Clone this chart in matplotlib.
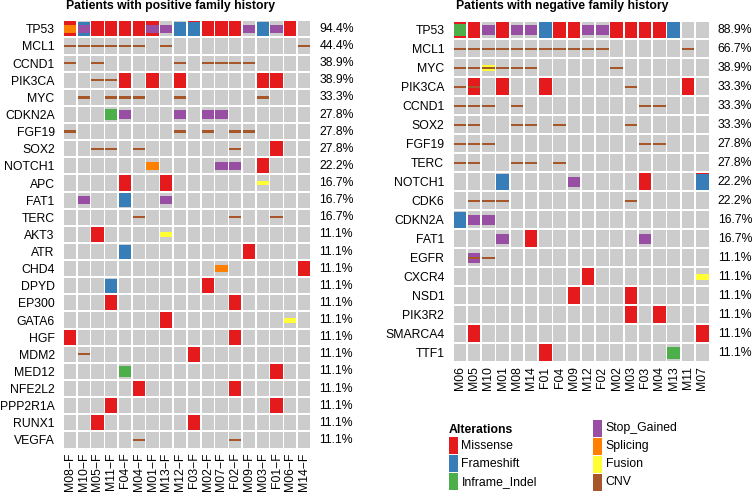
import numpy as np
import matplotlib.pyplot as plt
from matplotlib.patches import Rectangle

plt.rcParams['font.family'] = ['Liberation Sans', 'DejaVu Sans']

# alteration types, codes used in the call tables below, colours and bar heights
alt_types = ['Missense', 'Frameshift', 'Inframe_Indel', 'Stop_Gained', 'Splicing', 'Fusion', 'CNV']
alt_codes = ['M', 'F', 'I', 'S', 'P', 'U', 'C']
alt_colors = ['#E41A1C', '#377EB8', '#4DAF4A', '#984EA3', '#FF7F00', '#FFFF33', '#A65628']
alt_heights = [1.0, 0.82, 0.64, 0.5, 0.43, 0.29, 0.14]  # share of row pitch

# positive family history
pos_samples = ['M08-F', 'M10-F', 'M05-F', 'M11-F', 'F04-F', 'M04-F', 'M01-F', 'M13-F', 'M12-F',
               'F03-F', 'M02-F', 'M07-F', 'F02-F', 'M09-F', 'M03-F', 'F01-F', 'M06-F', 'M14-F']
pos_genes = ['TP53', 'MCL1', 'CCND1', 'PIK3CA', 'MYC', 'CDKN2A', 'FGF19', 'SOX2', 'NOTCH1', 'APC',
             'FAT1', 'TERC', 'AKT3', 'ATR', 'CHD4', 'DPYD', 'EP300', 'GATA6', 'HGF', 'MDM2',
             'MED12', 'NFE2L2', 'PPP2R1A', 'RUNX1', 'VEGFA']
pos_calls = [
    'MP FS M  M  M  M  MS S  F  MF M  M  M  S  F  S  M  .',
    'C  C  C  C  C  C  .  C  .  .  .  .  .  .  .  .  .  C',
    'C  .  C  .  .  .  .  .  C  .  C  C  C  C  .  .  .  .',
    '.  .  C  C  M  .  M  .  M  .  .  .  .  .  M  M  .  .',
    '.  C  .  C  C  C  .  .  C  .  .  .  .  .  C  .  .  .',
    '.  .  .  I  S  .  .  .  S  .  S  S  .  .  .  .  .  .',
    'C  .  .  .  .  .  .  .  C  .  C  .  C  C  .  .  .  .',
    '.  .  C  C  .  C  .  .  .  .  .  .  C  .  .  M  .  .',
    '.  .  .  .  .  .  P  .  .  .  .  S  S  .  M  .  .  .',
    '.  .  .  .  M  .  .  M  .  .  .  .  .  .  U  .  .  .',
    '.  S  .  .  F  .  .  S  .  .  .  .  .  .  .  .  .  .',
    '.  .  .  .  .  C  .  .  .  .  .  .  C  .  .  C  .  .',
    '.  .  M  .  .  .  .  U  .  .  .  .  .  .  .  .  .  .',
    '.  .  .  .  F  .  .  .  .  .  .  .  .  M  .  .  .  .',
    '.  .  .  .  .  .  .  .  .  .  .  P  .  .  .  .  .  M',
    '.  .  .  F  .  .  .  .  .  .  M  .  .  .  .  .  .  .',
    '.  .  .  M  .  .  .  .  .  .  .  .  M  .  .  .  .  .',
    '.  .  .  .  .  .  .  M  .  .  .  .  .  .  .  .  U  .',
    'M  .  .  .  .  .  .  .  .  .  .  .  M  .  .  .  .  .',
    '.  C  .  .  .  .  .  .  .  M  .  .  .  .  .  .  .  .',
    '.  .  .  .  I  .  .  .  .  .  .  .  .  .  .  M  .  .',
    '.  .  .  .  .  M  .  .  .  .  .  .  M  .  .  .  .  .',
    '.  .  .  M  .  .  .  .  .  .  .  .  .  .  .  M  .  .',
    '.  .  M  .  .  .  .  .  .  M  .  .  .  .  .  .  .  .',
    '.  .  .  .  .  C  .  .  .  .  .  .  C  .  .  .  .  .',
]

# negative family history
neg_samples = ['M06', 'M05', 'M10', 'M01', 'M08', 'M14', 'F01', 'F04', 'M09',
               'M12', 'F02', 'M02', 'M03', 'F03', 'M04', 'M13', 'M11', 'M07']
neg_genes = ['TP53', 'MCL1', 'MYC', 'PIK3CA', 'CCND1', 'SOX2', 'FGF19', 'TERC', 'NOTCH1',
             'CDK6', 'CDKN2A', 'FAT1', 'EGFR', 'CXCR4', 'NSD1', 'PIK3R2', 'SMARCA4', 'TTF1']
neg_calls = [
    'MI M  S  M  S  S  F  M  M  S  S  M  M  M  M  F  .  .',
    'C  C  C  C  C  C  C  C  C  C  C  .  .  .  .  .  C  .',
    'C  C  UC C  C  C  .  .  .  .  .  C  .  .  .  .  .  .',
    'C  MC .  M  .  .  M  .  .  .  .  .  C  .  .  .  M  .',
    'C  C  C  .  C  .  .  .  .  .  .  .  .  C  C  .  .  .',
    'C  C  .  .  C  C  .  C  .  .  .  .  C  .  .  .  .  .',
    'C  C  C  .  .  .  .  .  .  .  .  .  .  C  C  .  .  .',
    'C  C  .  .  C  C  .  C  .  .  .  .  .  .  .  .  .  .',
    '.  .  .  F  .  .  .  .  S  .  .  .  .  M  .  .  .  MF',
    '.  C  C  C  .  .  .  .  .  .  .  .  C  .  .  .  .  .',
    'F  S  S  .  .  .  .  .  .  .  .  .  .  .  .  .  .  .',
    '.  .  .  S  .  M  .  .  .  .  .  .  .  S  .  .  .  .',
    '.  SC C  .  .  .  .  .  .  .  .  .  .  .  .  .  .  .',
    '.  .  .  .  .  .  .  .  .  M  .  .  .  .  .  .  .  U',
    '.  .  .  .  .  .  .  .  M  .  .  .  M  .  .  .  .  .',
    '.  .  .  .  .  .  .  .  .  .  .  .  M  .  M  .  .  .',
    '.  M  .  .  .  .  .  .  .  .  .  .  .  .  .  .  .  M',
    '.  .  .  .  .  .  M  .  .  .  .  .  .  .  .  I  .  .',
]

W, H = 753, 494
BG = '#CCCCCC'
FS = 8.8


def draw_panel(fig, rect_px, samples, genes, calls):
    x0, y0, x1, y1 = rect_px
    ax = fig.add_axes([x0 / W, 1 - y1 / H, (x1 - x0) / W, (y1 - y0) / H])
    n_s, n_g = len(samples), len(genes)
    ax.set_xlim(0, n_s)
    ax.set_ylim(n_g, 0)
    gx = 1.6 / ((x1 - x0) / n_s)
    gy = 2.0 / ((y1 - y0) / n_g)
    for r, row in enumerate(calls):
        cells = row.split()
        for c, cell in enumerate(cells):
            ax.add_patch(Rectangle((c + gx / 2, r + gy / 2), 1 - gx, 1 - gy, fc=BG, ec='none'))
            for code, col, h in zip(alt_codes, alt_colors, alt_heights):
                if code in cell:
                    h = min(h, 1 - gy)
                    ax.add_patch(Rectangle((c + gx / 2, r + 0.5 - h / 2), 1 - gx, h,
                                           fc=col, ec='none'))
        n_alt = sum(1 for cell in cells if cell != '.')
        ax.annotate('%.1f%%' % (100.0 * n_alt / n_s), xy=(1, r + 0.5),
                    xycoords=('axes fraction', 'data'), xytext=(6, 0),
                    textcoords='offset points', va='center', ha='left', fontsize=FS)
    ax.set_yticks(np.arange(n_g) + 0.5)
    ax.set_yticklabels(genes)
    ax.set_xticks(np.arange(n_s) + 0.5)
    ax.set_xticklabels([s.replace('-', '\u2212') for s in samples], rotation=90)
    ax.tick_params(length=0, labelsize=FS)
    ax.tick_params(axis='y', pad=6)
    ax.tick_params(axis='x', pad=3)
    for sp in ax.spines.values():
        sp.set_visible(False)
    return ax


fig = plt.figure(figsize=(W / 100, H / 100), dpi=100)

draw_panel(fig, (63, 20.3, 311, 448.5), pos_samples, pos_genes, pos_calls)
draw_panel(fig, (452.7, 20.5, 709.3, 362.3), neg_samples, neg_genes, neg_calls)

fig.text(171 / W, 1 - 9.5 / H, 'Patients with positive family history',
         ha='center', va='baseline', fontsize=FS, fontweight='bold')
fig.text(562 / W, 1 - 9.5 / H, 'Patients with negative family history',
         ha='center', va='baseline', fontsize=FS, fontweight='bold')

# legend drawn in a figure-pixel axes
lg = fig.add_axes([0, 0, 1, 1], zorder=-1)
lg.set_xlim(0, W)
lg.set_ylim(H, 0)
lg.axis('off')
lg.text(449, 433, 'Alterations', fontsize=FS, fontweight='bold', va='baseline', ha='left')
col_x = [449, 593.3]
col_y = [437.3, 420.0]
per_col = 3
for i, (name, col) in enumerate(zip(alt_types, alt_colors)):
    k = 0 if i < per_col else 1
    j = i if i < per_col else i - per_col
    top = col_y[k] + j * 18
    lg.add_patch(Rectangle((col_x[k], top), 9, 16.6, fc=col, ec='none'))
    lg.text(col_x[k] + 12.5, top + 8.3, name, fontsize=FS, va='center', ha='left')

fig.savefig('out.png', dpi=100)
